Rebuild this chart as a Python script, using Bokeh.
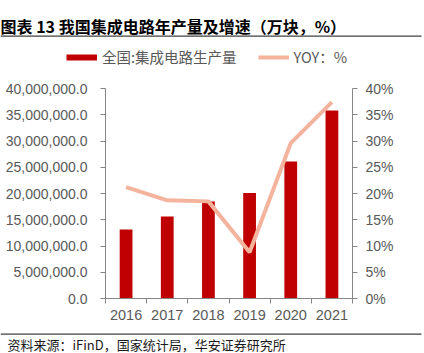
from bokeh.plotting import figure
from bokeh.models import (Range1d, LinearAxis, FixedTicker, NumeralTickFormatter,
                          PrintfTickFormatter, Legend, LegendItem, Label, BoxAnnotation)
from bokeh.embed import file_html
from bokeh.resources import INLINE

years = ["2016", "2017", "2018", "2019", "2020", "2021"]
production = [13150000, 15600000, 18500000, 20100000, 26100000, 35800000]
yoy = [21.2, 18.7, 18.5, 8.8, 29.6, 37.4]
left_ticks = [0, 5e6, 10e6, 15e6, 20e6, 25e6, 30e6, 35e6, 40e6]
right_ticks = [0, 5, 10, 15, 20, 25, 30, 35, 40]
title_text = "图表 13 我国集成电路年产量及增速（万块，%）"
source_text = "资料来源：iFinD，国家统计局，华安证券研究所"
bar_label = "全国:集成电路生产量"
line_label = "YOY：%"

GRAY = "#595959"
AXIS = "#868686"
RED = "#C00000"
SALMON = "#F4B39C"
FONT = "Liberation Sans"
CJK = "Noto Sans CJK SC"

# canvas layout (pixels)
W, H = 424, 353
PL, PR, PT, PB = 105, 352, 88, 298   # plot-area edges on the canvas

n = len(years)
x = list(range(n))
xmin, xmax = -0.5, n - 0.5
ppx = (PR - PL) / (xmax - xmin)
ymax_l, ymax_r = left_ticks[-1], right_ticks[-1]
ppy_l = (PB - PT) / ymax_l
ppy_r = (PB - PT) / ymax_r

p = figure(width=W, height=H, output_backend="svg", toolbar_location=None,
           x_axis_location=None, y_axis_location=None,
           x_range=Range1d(xmin - PL / ppx, xmax + (W - PR) / ppx),
           y_range=Range1d(-(H - PB) / ppy_l, ymax_l + PT / ppy_l),
           min_border_left=0, min_border_right=0, min_border_top=0,
           min_border_bottom=0)
p.xgrid.visible = False
p.ygrid.visible = False
p.outline_line_color = None
p.extra_y_ranges = {"pct": Range1d(-(H - PB) / ppy_r, ymax_r + PT / ppy_r)}

bars = p.vbar(x=x, top=production, width=0.31, fill_color=RED, line_color=None)
line = p.line(x=x, y=yoy, y_range_name="pct", line_color=SALMON, line_width=4)
bar_swatch = p.line(x=[float("nan")], y=[float("nan")], line_color=RED, line_width=6)

la = LinearAxis(ticker=FixedTicker(ticks=left_ticks),
                formatter=NumeralTickFormatter(format="0,0.0"),
                fixed_location=xmin, bounds=(0, ymax_l))
ra = LinearAxis(y_range_name="pct", ticker=FixedTicker(ticks=right_ticks),
                formatter=PrintfTickFormatter(format="%d%%"),
                fixed_location=xmax, bounds=(0, ymax_r))
p.add_layout(la, "left")
p.add_layout(ra, "right")
for ax, st in ((la, 13), (ra, 8)):
    ax.major_tick_in = 0
    ax.major_tick_out = 5
    ax.minor_tick_in = 0
    ax.minor_tick_out = 0
    ax.axis_line_color = AXIS
    ax.major_tick_line_color = AXIS
    ax.major_label_text_color = GRAY
    ax.major_label_text_font = FONT
    ax.major_label_standoff = st
la.major_label_text_font_size = "14px"
ra.major_label_text_font_size = "14px"

xa = LinearAxis(ticker=FixedTicker(ticks=x, minor_ticks=[i - 0.5 for i in range(n + 1)]),
                fixed_location=0, bounds=(xmin, xmax))
p.add_layout(xa, "below")
xa.major_label_overrides = {i: years[i] for i in x}
xa.major_tick_in = 0
xa.major_tick_out = 0
xa.minor_tick_in = 0
xa.minor_tick_out = 5
xa.minor_tick_line_color = AXIS
xa.axis_line_color = AXIS
xa.major_label_text_color = GRAY
xa.major_label_text_font = FONT
xa.major_label_text_font_size = "14.5px"
xa.major_label_standoff = 6

legend = Legend(items=[LegendItem(label=bar_label, renderers=[bar_swatch]),
                       LegendItem(label=line_label, renderers=[line])],
                orientation="horizontal", location=(66, H - 59 - 8),
                glyph_width=31, glyph_height=16, label_standoff=5, spacing=21,
                padding=0, margin=0, border_line_color=None,
                background_fill_alpha=0,
                label_text_font=CJK, label_text_font_size="14.5px",
                label_text_color=GRAY)
p.add_layout(legend)

p.add_layout(Label(x=0, y=H - 25, x_units="screen", y_units="screen", text=title_text,
                   text_baseline="middle", text_font=CJK, text_font_style="bold",
                   text_font_size="16px", text_color="#000000"))
p.add_layout(Label(x=7, y=H - 344, x_units="screen", y_units="screen", text=source_text,
                   text_baseline="middle", text_font=CJK,
                   text_font_size="13px", text_color="#1a1a1a"))
for yy in (35, 333):
    p.add_layout(BoxAnnotation(left=0, right=421, top=yy, bottom=yy + 1.3,
                               left_units="canvas", right_units="canvas",
                               top_units="canvas", bottom_units="canvas",
                               fill_color="#404040", fill_alpha=1, line_color=None))

open("out.html", "w").write(file_html(p, INLINE))
